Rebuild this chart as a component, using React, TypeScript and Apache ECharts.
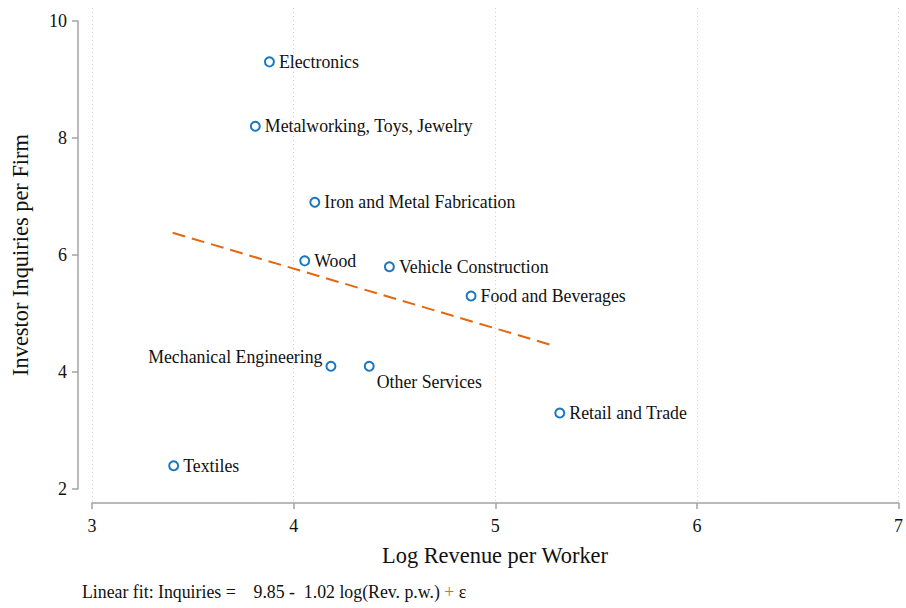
import React, { useEffect, useRef } from "react";
import * as echarts from "echarts";

const industries = [
  "Electronics",
  "Metalworking, Toys, Jewelry",
  "Iron and Metal Fabrication",
  "Wood",
  "Vehicle Construction",
  "Food and Beverages",
  "Mechanical Engineering",
  "Other Services",
  "Retail and Trade",
  "Textiles",
];
const logRevenue = [3.88, 3.81, 4.105, 4.055, 4.475, 4.88, 4.185, 4.375, 5.32, 3.405];
const inquiries = [9.3, 8.2, 6.9, 5.9, 5.8, 5.3, 4.1, 4.1, 3.3, 2.4];
const fitLine = [
  [3.4, 6.38],
  [5.3, 4.44],
];
const xTicks = [3, 4, 5, 6, 7];
const yTicks = [2, 4, 6, 8, 10];

const SERIF = "'Liberation Serif', 'DejaVu Serif', serif";
const BLUE = "#1a78c0";
const ORANGE = "#e3670f";
const AXIS_GRAY = "#a3a3a3";

const labelLayout: Record<string, any> = {
  "Mechanical Engineering": { position: "left", distance: 3, offset: [0, -9] },
  "Other Services": { position: "right", distance: 2, offset: [0, 16] },
};

export default function App() {
  const ref = useRef<HTMLDivElement>(null);
  useEffect(() => {
    if (!ref.current) return;
    const chart = echarts.init(ref.current, null, { renderer: "svg" });
    const scatterData = industries.map((name, i) => {
      const lay = labelLayout[name] || { position: "right", distance: 4 };
      return {
        name,
        value: [logRevenue[i], inquiries[i]],
        label: { show: true, formatter: name, ...lay },
      };
    });
    chart.setOption({
      animation: false,
      backgroundColor: "#ffffff",
      textStyle: { fontFamily: SERIF },
      grid: [
        { left: 92, width: 811, top: 8, height: 494 },
        { left: 78, top: 21, height: 468, width: 10 },
      ],
      xAxis: [
        {
          gridIndex: 0,
          type: "value",
          min: xTicks[0],
          max: xTicks[xTicks.length - 1],
          interval: 1,
          offset: 1,
          axisLine: { show: true, lineStyle: { color: AXIS_GRAY, width: 1.5 } },
          axisTick: { show: true, length: 6, lineStyle: { color: AXIS_GRAY, width: 1.5 } },
          axisLabel: { fontFamily: SERIF, fontSize: 18, color: "#111", margin: 14 },
          splitLine: { show: true, lineStyle: { color: "#d0d0d0", type: [1, 3], width: 1 } },
        },
        { gridIndex: 1, type: "value", show: false, min: 0, max: 1 },
      ],
      yAxis: [
        {
          gridIndex: 0,
          type: "value",
          min: 1.78,
          max: 10.22,
          show: false,
          splitLine: { show: false },
        },
        {
          gridIndex: 1,
          type: "value",
          min: yTicks[0],
          max: yTicks[yTicks.length - 1],
          interval: 2,
          position: "left",
          axisLine: { show: true, lineStyle: { color: AXIS_GRAY, width: 1.5 } },
          axisTick: { show: true, length: 6, lineStyle: { color: AXIS_GRAY, width: 1.5 } },
          axisLabel: { fontFamily: SERIF, fontSize: 18, color: "#111", margin: 11 },
          splitLine: { show: false },
        },
      ],
      series: [
        {
          type: "line",
          xAxisIndex: 0,
          yAxisIndex: 0,
          data: fitLine,
          symbol: "none",
          silent: true,
          lineStyle: { color: ORANGE, width: 2, type: [13, 7], cap: "butt" },
          z: 2,
        },
        {
          type: "scatter",
          xAxisIndex: 0,
          yAxisIndex: 0,
          data: scatterData,
          symbol: "circle",
          symbolSize: 9,
          itemStyle: { color: "#ffffff", borderColor: BLUE, borderWidth: 2, opacity: 1 },
          label: { fontFamily: SERIF, fontSize: 17.8, color: "#111" },
          z: 3,
        },
      ],
      graphic: [
        {
          type: "text",
          x: 20,
          y: 255,
          rotation: Math.PI / 2,
          style: {
            text: "Investor Inquiries per Firm",
            font: `22.4px ${SERIF}`,
            fill: "#111",
            align: "center",
            verticalAlign: "middle",
          },
        },
        {
          type: "text",
          x: 495,
          y: 555,
          style: {
            text: "Log Revenue per Worker",
            font: `22.4px ${SERIF}`,
            fill: "#111",
            align: "center",
            verticalAlign: "middle",
          },
        },
        {
          type: "text",
          x: 82,
          y: 592,
          style: {
            text: "{a|Linear fit: Inquiries =\u00a0\u00a0\u00a0 9.85 -\u00a0 1.02 log(Rev. p.w.) }{p|+}{a| \u03b5}",
            align: "left",
            verticalAlign: "middle",
            rich: {
              a: { fontFamily: SERIF, fontSize: 17.8, fill: "#111", color: "#111" },
              p: { fontFamily: SERIF, fontSize: 17.8, fill: "#b07a3a", color: "#b07a3a" },
            },
          },
        },
      ],
    });
    return () => chart.dispose();
  }, []);
  return (
    <div
      ref={ref}
      style={{ position: "absolute", left: 0, top: 0, width: 906, height: 608, background: "#fff" }}
    />
  );
}
